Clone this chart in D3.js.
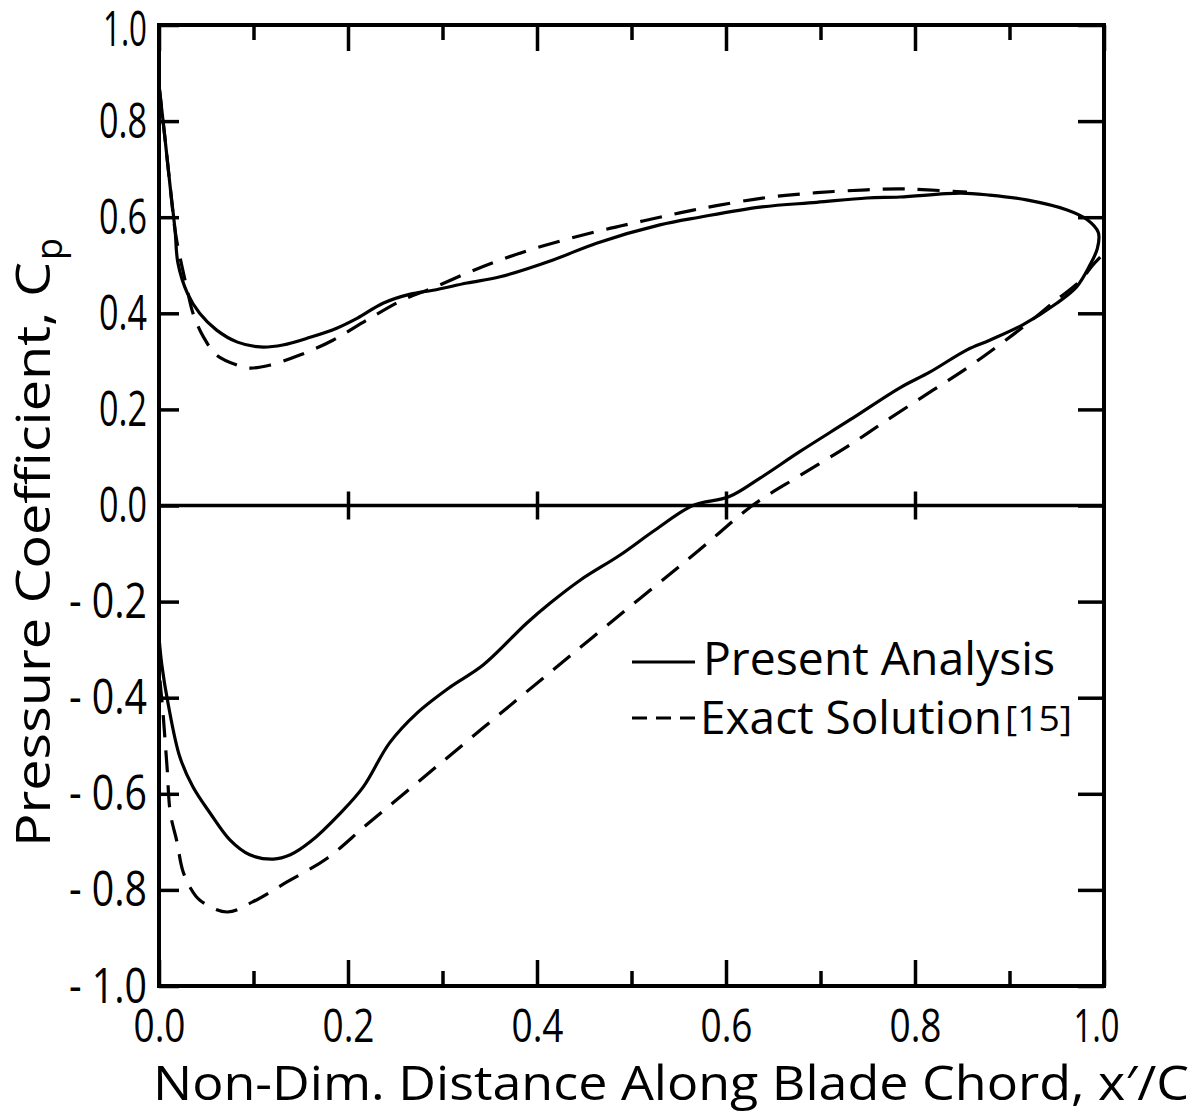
<!DOCTYPE html>
<html>
<head>
<meta charset="utf-8">
<script src="https://cdn.jsdelivr.net/npm/d3@7"></script>
<style>
  html, body { margin: 0; padding: 0; background: #fff; }
  svg { display: block; }
  text { font-family: "Open Sans", "DejaVu Sans", sans-serif; font-weight: 400; fill: #000; }
</style>
</head>
<body>
<svg id="chart" width="1192" height="1113"></svg>
<script>
// ---- data (x/C, Cp) ----
const presentUpper = [
  [0.000, 0.875], [0.006, 0.77], [0.012, 0.66], [0.017, 0.573], [0.020, 0.505],
  [0.030, 0.442], [0.043, 0.400], [0.061, 0.365], [0.083, 0.340], [0.107, 0.330],
  [0.131, 0.334], [0.160, 0.350], [0.188, 0.369], [0.210, 0.390], [0.237, 0.421],
  [0.266, 0.440], [0.290, 0.448], [0.326, 0.463], [0.361, 0.476], [0.417, 0.511],
  [0.463, 0.546], [0.530, 0.584], [0.572, 0.600], [0.636, 0.621], [0.696, 0.631],
  [0.749, 0.640], [0.784, 0.642], [0.848, 0.650], [0.879, 0.646], [0.918, 0.636],
  [0.961, 0.615], [0.982, 0.595], [0.994, 0.568]
];
const presentLower = [
  [0.993, 0.535], [0.985, 0.500], [0.971, 0.455], [0.950, 0.421], [0.914, 0.376],
  [0.879, 0.344], [0.855, 0.324], [0.816, 0.278], [0.784, 0.245], [0.731, 0.178],
  [0.678, 0.112], [0.636, 0.057], [0.603, 0.018], [0.565, 0.000], [0.525, -0.051],
  [0.488, -0.103], [0.446, -0.155], [0.414, -0.203], [0.389, -0.245], [0.343, -0.332],
  [0.308, -0.378], [0.273, -0.432], [0.244, -0.494], [0.216, -0.586], [0.192, -0.640],
  [0.160, -0.700], [0.139, -0.727], [0.121, -0.736], [0.096, -0.727], [0.075, -0.696],
  [0.054, -0.640], [0.036, -0.586], [0.022, -0.523], [0.0095, -0.411], [0.003, -0.332],
  [0.000, -0.274]
];
const exactUpper = [
  [0.000, 0.875], [0.006, 0.77], [0.012, 0.66], [0.018, 0.560], [0.030, 0.448],
  [0.036, 0.400], [0.047, 0.351], [0.061, 0.313], [0.083, 0.292], [0.096, 0.286],
  [0.117, 0.292], [0.149, 0.313], [0.184, 0.344], [0.220, 0.386], [0.258, 0.428],
  [0.290, 0.453], [0.326, 0.484], [0.361, 0.511], [0.406, 0.540], [0.467, 0.572],
  [0.512, 0.592], [0.551, 0.609], [0.590, 0.624], [0.643, 0.641], [0.696, 0.651],
  [0.749, 0.657], [0.784, 0.659], [0.813, 0.657], [0.855, 0.652]
];
const exactLower = [
  [0.996, 0.517], [0.988, 0.500], [0.975, 0.468], [0.950, 0.428], [0.914, 0.371],
  [0.887, 0.331], [0.855, 0.286], [0.819, 0.240], [0.766, 0.172], [0.731, 0.126],
  [0.678, 0.062], [0.628, 0.000], [0.572, -0.092], [0.459, -0.274], [0.379, -0.404],
  [0.297, -0.538], [0.220, -0.664], [0.178, -0.734], [0.135, -0.784], [0.099, -0.825],
  [0.072, -0.846], [0.043, -0.821], [0.033, -0.795], [0.025, -0.759], [0.019, -0.700],
  [0.012, -0.640], [0.0085, -0.544], [0.004, -0.426], [0.001, -0.360], [0.000, -0.300]
];
const xMajorTicks = [0, 0.2, 0.4, 0.6, 0.8, 1.0];
const xMinorTicks = [0.1, 0.3, 0.5, 0.7, 0.9];
const xTickLabels = ["0.0", "0.2", "0.4", "0.6", "0.8", "1.0"];
const yTicks = [1.0, 0.8, 0.6, 0.4, 0.2, 0.0, -0.2, -0.4, -0.6, -0.8, -1.0];
const yTickLabels = ["1.0", "0.8", "0.6", "0.4", "0.2", "0.0", "- 0.2", "- 0.4", "- 0.6", "- 0.8", "- 1.0"];
const zeroLineTicks = [0.2, 0.4, 0.6, 0.8];
const legendLabels = ["Present Analysis", "Exact Solution"];
const legendRef = "[15]";
const xTitle = "Non-Dim. Distance Along Blade Chord, x\u2032/C";
const yTitleMain = "Pressure Coefficient, C";
const yTitleSub = "p";

// ---- scales ----
const svg = d3.select("#chart");
const x = d3.scaleLinear().domain([0, 1]).range([159, 1104]);
const y = d3.scaleLinear().domain([-1, 1]).range([986, 25]);

// ---- frame ----
svg.append("rect")
  .attr("x", x(0)).attr("y", y(1))
  .attr("width", x(1) - x(0)).attr("height", y(-1) - y(1))
  .attr("fill", "none").attr("stroke", "#000").attr("stroke-width", 4);

svg.append("line")
  .attr("x1", x(0)).attr("x2", x(1)).attr("y1", y(0)).attr("y2", y(0))
  .attr("stroke", "#000").attr("stroke-width", 3.5);

function styleAxis(g) {
  g.select(".domain").remove();
  g.selectAll(".tick line").attr("stroke", "#000").attr("stroke-width", 3.5);
}

// bottom axis: major with labels
const xLabelMap = new Map(xMajorTicks.map((v, i) => [v, xTickLabels[i]]));
svg.append("g").attr("transform", `translate(0,${y(-1)})`)
  .call(d3.axisBottom(x).tickValues(xMajorTicks).tickSizeInner(-26).tickSizeOuter(0)
    .tickPadding(23).tickFormat(v => xLabelMap.get(v)))
  .call(styleAxis)
  .call(g => g.selectAll(".tick text")
    .attr("font-size", 46).attr("fill", "#000")
    .attr("dx", d => d === 1 ? -8 : 0)
    .attr("textLength", (d) => d === 1 ? 46 : 52).attr("lengthAdjust", "spacingAndGlyphs"));
svg.append("g").attr("transform", `translate(0,${y(-1)})`)
  .call(d3.axisBottom(x).tickValues(xMinorTicks).tickSizeInner(-15).tickSizeOuter(0).tickFormat(""))
  .call(styleAxis);

// top axis
svg.append("g").attr("transform", `translate(0,${y(1)})`)
  .call(d3.axisTop(x).tickValues(xMajorTicks).tickSizeInner(-26).tickSizeOuter(0).tickFormat(""))
  .call(styleAxis);
svg.append("g").attr("transform", `translate(0,${y(1)})`)
  .call(d3.axisTop(x).tickValues(xMinorTicks).tickSizeInner(-15).tickSizeOuter(0).tickFormat(""))
  .call(styleAxis);

// left axis
const yLabelMap = new Map(yTicks.map((v, i) => [v, yTickLabels[i]]));
svg.append("g").attr("transform", `translate(${x(0)},0)`)
  .call(d3.axisLeft(y).tickValues(yTicks).tickSizeInner(-20).tickSizeOuter(0)
    .tickPadding(12).tickFormat(v => yLabelMap.get(v)))
  .call(styleAxis)
  .call(g => g.selectAll(".tick text")
    .attr("font-size", 50).attr("fill", "#000")
    .attr("y", d => d === 1 ? 4 : 0)
    .attr("textLength", d => d < 0 ? 78 : (d === 1 ? 44 : 48))
    .attr("lengthAdjust", "spacingAndGlyphs"));

// right axis
svg.append("g").attr("transform", `translate(${x(1)},0)`)
  .call(d3.axisRight(y).tickValues(yTicks).tickSizeInner(-26).tickSizeOuter(0).tickFormat(""))
  .call(styleAxis);

// zero line ticks (both sides)
svg.append("g").attr("transform", `translate(0,${y(0)})`)
  .call(d3.axisBottom(x).tickValues(zeroLineTicks).tickSize(14).tickFormat(""))
  .call(styleAxis);
svg.append("g").attr("transform", `translate(0,${y(0)})`)
  .call(d3.axisTop(x).tickValues(zeroLineTicks).tickSize(14).tickFormat(""))
  .call(styleAxis);

// ---- curves ----
const line = d3.line()
  .x(d => x(d[0])).y(d => y(d[1]))
  .curve(d3.curveCatmullRom.alpha(0.5));

svg.append("path")
  .attr("d", line(presentUpper.concat(presentLower)))
  .attr("fill", "none").attr("stroke", "#000").attr("stroke-width", 3.2)
  .attr("stroke-linejoin", "round");

[exactUpper, exactLower].forEach(arr => {
  svg.append("path")
    .attr("d", line(arr))
    .attr("fill", "none").attr("stroke", "#000").attr("stroke-width", 3.2)
    .attr("stroke-dasharray", "22,13");
});

// ---- legend ----
svg.append("line").attr("x1", 632).attr("x2", 695).attr("y1", 662).attr("y2", 662)
  .attr("stroke", "#000").attr("stroke-width", 3);
svg.append("text").attr("x", 703).attr("y", 675).attr("font-size", 46)
  .attr("textLength", 352).attr("lengthAdjust", "spacingAndGlyphs")
  .text(legendLabels[0]);
svg.append("line").attr("x1", 632).attr("x2", 695).attr("y1", 718).attr("y2", 718)
  .attr("stroke", "#000").attr("stroke-width", 3).attr("stroke-dasharray", "15,9");
svg.append("text").attr("x", 700).attr("y", 734).attr("font-size", 46)
  .attr("textLength", 302).attr("lengthAdjust", "spacingAndGlyphs")
  .text(legendLabels[1]);
svg.append("text").attr("x", 1005).attr("y", 731).attr("font-size", 34)
  .attr("textLength", 67).attr("lengthAdjust", "spacingAndGlyphs")
  .text(legendRef);

// ---- axis titles ----
svg.append("text").attr("x", 153).attr("y", 1100).attr("font-size", 47)
  .attr("textLength", 1036).attr("lengthAdjust", "spacingAndGlyphs")
  .text(xTitle);

const yt = svg.append("text")
  .attr("transform", "translate(50,847) rotate(-90)")
  .attr("font-size", 48);
yt.append("tspan").attr("textLength", 585).attr("lengthAdjust", "spacingAndGlyphs").text(yTitleMain);
yt.append("tspan").attr("font-size", 36).attr("dy", 12).attr("dx", 2).text(yTitleSub);
</script>
</body>
</html>
